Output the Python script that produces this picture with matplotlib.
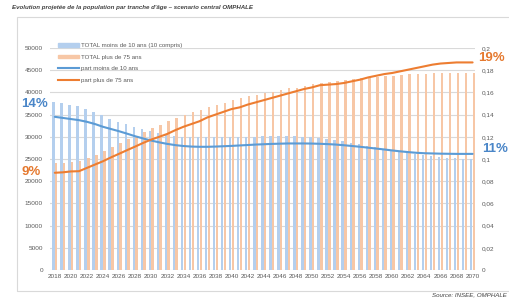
import matplotlib
matplotlib.use("Agg")
import matplotlib.pyplot as plt
from matplotlib.patches import Rectangle
from matplotlib.lines import Line2D
import numpy as np

plt.rcParams["font.family"] = ["Liberation Sans", "DejaVu Sans"]

years = list(range(2018, 2071))

# TOTAL moins de 10 ans (10 compris)
total_moins_10 = [
    37900, 37600, 37200, 36900, 36300, 35500, 34800, 34000, 33400, 32900,
    32300, 31800, 31300, 30900, 30500, 30200, 30000, 29900, 29900, 29900,
    29900, 29900, 30000, 30000, 30000, 30000, 30100, 30100, 30100, 30100,
    30100, 30000, 30000, 29800, 29600, 29300, 29000, 28700, 28300, 28000,
    27600, 27300, 27000, 26700, 26400, 26100, 25900, 25700, 25500, 25300,
    25200, 25100, 25000,
]

# TOTAL plus de 75 ans
total_plus_75 = [
    24000, 24200, 24300, 24500, 25200, 25900, 26900, 27800, 28700, 29400,
    30200, 31000, 31900, 32700, 33500, 34200, 34800, 35500, 36000, 36600,
    37100, 37700, 38300, 38800, 39200, 39500, 39800, 40200, 40500, 40900,
    41100, 41500, 41900, 42200, 42400, 42600, 42800, 43000, 43200, 43300,
    43500, 43700, 43800, 44000, 44100, 44200, 44200, 44300, 44300, 44300,
    44400, 44400, 44400,
]

# part moins de 10 ans
part_moins_10 = [
    0.138, 0.137, 0.136, 0.135, 0.1335, 0.1315, 0.129, 0.127, 0.125, 0.1228,
    0.1205, 0.1185, 0.1166, 0.115, 0.1136, 0.1125, 0.1117, 0.1112, 0.111, 0.111,
    0.1112, 0.1115, 0.1118, 0.1122, 0.1126, 0.113, 0.1133, 0.1136, 0.1138, 0.114,
    0.114, 0.114, 0.1139, 0.1137, 0.1134, 0.113, 0.1124, 0.1117, 0.111, 0.1102,
    0.1094, 0.1086, 0.1077, 0.1069, 0.1062, 0.1056, 0.1052, 0.105, 0.1048, 0.1047,
    0.1046, 0.1046, 0.1046,
]

# part plus de 75 ans
part_plus_75 = [
    0.0876, 0.088, 0.0888, 0.089, 0.092, 0.095, 0.098, 0.1015, 0.1047, 0.108,
    0.1112, 0.1145, 0.1175, 0.12, 0.1226, 0.126, 0.129, 0.1315, 0.134, 0.1375,
    0.14, 0.1425, 0.145, 0.1465, 0.149, 0.151, 0.153, 0.155, 0.157, 0.159,
    0.161, 0.163, 0.1645, 0.1665, 0.167, 0.1675, 0.1685, 0.17, 0.1715, 0.1735,
    0.175, 0.1765, 0.1775, 0.179, 0.1805, 0.182, 0.1835, 0.185, 0.186, 0.1865,
    0.187, 0.187, 0.187,
]

left_ticks = list(range(0, 50001, 5000))
right_ticks = [0, 0.02, 0.04, 0.06, 0.08, 0.1, 0.12, 0.14, 0.16, 0.18, 0.2]
right_labels = ["0", "0,02", "0,04", "0,06", "0,08", "0,1", "0,12", "0,14", "0,16", "0,18", "0,2"]

blue_bar = "#b4cfee"
orange_bar = "#f7c7a6"
blue_line = "#5b9bd5"
orange_line = "#ed7d31"
grey_txt = "#595959"
grid_col = "#d9d9d9"

W, H = 509, 299
fig = plt.figure(figsize=(W / 100, H / 100), dpi=100)

# cadre du graphique
fig.patches.append(Rectangle((17 / W, 1 - 291 / H), 600 / W, 274 / H,
                             transform=fig.transFigure, fill=False,
                             edgecolor=grid_col, linewidth=0.8))

ax = fig.add_axes([50 / W, 1 - 270 / H, 425 / W, 222 / H])
ax2 = ax.twinx()

x = np.array(years)
ax.bar(x - 0.17, total_moins_10, width=0.3, color=blue_bar, zorder=2)
ax.bar(x + 0.17, total_plus_75, width=0.3, color=orange_bar, zorder=2)
ax.set_axisbelow(True)
ax.yaxis.grid(True, color=grid_col, linewidth=0.8, zorder=0)
ax.set_ylim(0, 50000)
ax.set_yticks(left_ticks)
ax.set_xlim(2017.4, 2070.3)
ax.set_xticks(years[::2])
ax.tick_params(axis="both", length=0, labelsize=4.6, labelcolor=grey_txt)
ax.tick_params(axis="y", pad=5)
ax.tick_params(axis="x", pad=3)

ax2.plot(x, part_moins_10, color=blue_line, linewidth=1.5, solid_capstyle="round")
ax2.plot(x, part_plus_75, color=orange_line, linewidth=1.5, solid_capstyle="round")
ax2.set_ylim(0, 0.2)
ax2.set_yticks(right_ticks)
ax2.set_yticklabels(right_labels)
ax2.tick_params(axis="y", length=0, labelsize=4.6, labelcolor=grey_txt, pad=5)

for a in (ax, ax2):
    for s in a.spines.values():
        s.set_visible(False)

handles = [
    Rectangle((0, 0), 1, 1, color=blue_bar),
    Rectangle((0, 0), 1, 1, color=orange_bar),
    Line2D([], [], color=blue_line, linewidth=1.5),
    Line2D([], [], color=orange_line, linewidth=1.5),
]
labels = ["TOTAL moins de 10 ans (10 compris)", "TOTAL plus de 75 ans",
          "part moins de 10 ans", "part plus de 75 ans"]
leg = ax2.legend(handles, labels, loc="upper left",
                 bbox_to_anchor=(58 / W, 1 - 43 / H), bbox_transform=fig.transFigure,
                 frameon=False, fontsize=4.4, handlelength=3.4, handleheight=0.5,
                 handletextpad=0.3, labelspacing=1.1, borderpad=0, borderaxespad=0)
for t in leg.get_texts():
    t.set_color(grey_txt)

# valeurs mises en avant
fig.text(35 / W, 1 - 104 / H, "14%", color="#4a86c8", fontsize=9.5, fontweight="bold",
         ha="center", va="center")
fig.text(31 / W, 1 - 172 / H, "9%", color="#e5792f", fontsize=9.5, fontweight="bold",
         ha="center", va="center")
fig.text(491 / W, 1 - 58 / H, "19%", color="#e5792f", fontsize=9.5, fontweight="bold",
         ha="center", va="center")
fig.text(508 / W, 1 - 149 / H, "11%", color="#4a86c8", fontsize=9.5, fontweight="bold",
         ha="right", va="center")

fig.text(12 / W, 1 - 8 / H,
         "Evolution projetée de la population par tranche d'âge \u2013 scenario central OMPHALE",
         fontsize=4.4, fontweight="bold", fontstyle="italic", color="#404040",
         ha="left", va="center")
fig.text(507 / W, 1 - 295 / H, "Source: INSEE, OMPHALE", fontsize=4.4,
         fontstyle="italic", color="#404040", ha="right", va="center")

fig.savefig("out.png", dpi=100)
